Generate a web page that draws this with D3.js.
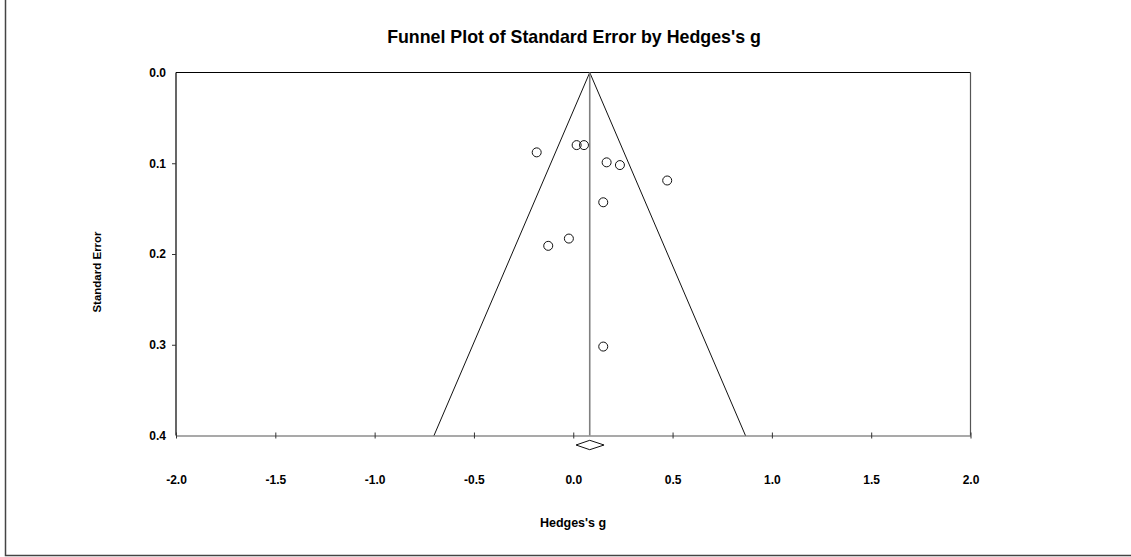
<!DOCTYPE html>
<html>
<head>
<meta charset="UTF-8">
<style>
body { margin: 0; background: #fff; }
svg text { font-family: Arial, "Liberation Sans", sans-serif; font-weight: bold; fill: #000; }
.tick text { font-size: 12px; }
</style>
<script src="https://cdnjs.cloudflare.com/ajax/libs/d3/7.8.5/d3.min.js"></script>
</head>
<body>
<svg id="chart" width="1131" height="557"></svg>
<script>
// study effect sizes (Hedges's g) and standard errors
var hedgesG = [-0.184, 0.017, 0.054, 0.168, 0.235, 0.473, 0.151, -0.022, -0.126, 0.151];
var stdErr  = [0.088, 0.080, 0.080, 0.099, 0.102, 0.119, 0.143, 0.183, 0.191, 0.302];
var meanG = 0.083;
var ciG = [0.014, 0.155];
var xTicks = [-2.0, -1.5, -1.0, -0.5, 0.0, 0.5, 1.0, 1.5, 2.0];
var yTicks = [0.0, 0.1, 0.2, 0.3, 0.4];

var svg = d3.select("#chart");
var pLeft = 176, pRight = 970.5, pTop = 72.5, pBottom = 435.5;
var fmt = function(d) { return d.toFixed(1); };

var x = d3.scaleLinear().domain([-2, 2]).range([pLeft, pRight]);
var y = d3.scaleLinear().domain([0, 0.4]).range([pTop, pBottom]);

// outer frame (only left and bottom edges show)
svg.append("path")
  .attr("d", "M5.5,0 L5.5,555.5 L1131,555.5")
  .attr("fill", "none").attr("stroke", "#444").attr("stroke-width", 1.5);

// plot frame
svg.append("line").attr("x1", pLeft).attr("x2", pRight).attr("y1", pTop).attr("y2", pTop)
  .attr("stroke", "#000").attr("stroke-width", 1.2);
svg.append("line").attr("x1", pLeft).attr("x2", pLeft).attr("y1", pTop).attr("y2", pBottom)
  .attr("stroke", "#000").attr("stroke-width", 1.2);
svg.append("line").attr("x1", pRight).attr("x2", pRight).attr("y1", pTop).attr("y2", pBottom)
  .attr("stroke", "#555").attr("stroke-width", 1.2);

// x axis along bottom
var xAxis = svg.append("g").attr("transform", "translate(0," + pBottom + ")")
  .call(d3.axisBottom(x).tickValues(xTicks).tickFormat(fmt).tickSize(0).tickPadding(40));
xAxis.select(".domain").attr("stroke", "#555").attr("stroke-width", 1.2);
xAxis.selectAll(".tick").append("line")
  .attr("y1", -3).attr("y2", 3).attr("stroke", "#333");
xAxis.selectAll(".tick").filter(function(d) { return d === -2 || d === 2; }).select("line").remove();

// y axis on left
var yAxis = svg.append("g").attr("transform", "translate(" + pLeft + ",0)")
  .call(d3.axisLeft(y).tickValues(yTicks).tickFormat(fmt).tickSize(4).tickPadding(6));
yAxis.select(".domain").remove();
yAxis.selectAll(".tick line").attr("stroke", "#333");
yAxis.selectAll(".tick").filter(function(d) { return d === 0 || d === 0.4; }).select("line").remove();

// funnel: 95% limits around the mean
var seMax = 0.4;
svg.append("path")
  .attr("d", d3.line()([
    [x(meanG - 1.96 * seMax), y(seMax)],
    [x(meanG), y(0)],
    [x(meanG + 1.96 * seMax), y(seMax)]
  ]))
  .attr("fill", "none").attr("stroke", "#111").attr("stroke-width", 1);

// mean line
svg.append("line")
  .attr("x1", x(meanG)).attr("x2", x(meanG)).attr("y1", y(0)).attr("y2", y(seMax))
  .attr("stroke", "#808080").attr("stroke-width", 1.6);

// study points
svg.selectAll("circle.study").data(hedgesG).enter().append("circle")
  .attr("class", "study")
  .attr("cx", function(d) { return x(d); })
  .attr("cy", function(d, i) { return y(stdErr[i]); })
  .attr("r", 4.5)
  .attr("fill", "none").attr("stroke", "#111").attr("stroke-width", 1);

// summary diamond
var dy = pBottom + 9.5;
svg.append("path")
  .attr("d", d3.line()([
    [x(ciG[0]), dy], [x(meanG), dy - 4.7], [x(ciG[1]), dy], [x(meanG), dy + 4.7]
  ]) + "Z")
  .attr("fill", "none").attr("stroke", "#111").attr("stroke-width", 1);

// title and axis labels
svg.append("text").attr("x", 574).attr("y", 43).attr("text-anchor", "middle")
  .style("font-size", "17.8px").text("Funnel Plot of Standard Error by Hedges's g");
svg.append("text").attr("x", 573).attr("y", 527).attr("text-anchor", "middle")
  .style("font-size", "12.5px").text("Hedges's g");
svg.append("text").attr("transform", "translate(101,272) rotate(-90)").attr("text-anchor", "middle")
  .style("font-size", "11.5px").text("Standard Error");
</script>
</body>
</html>
